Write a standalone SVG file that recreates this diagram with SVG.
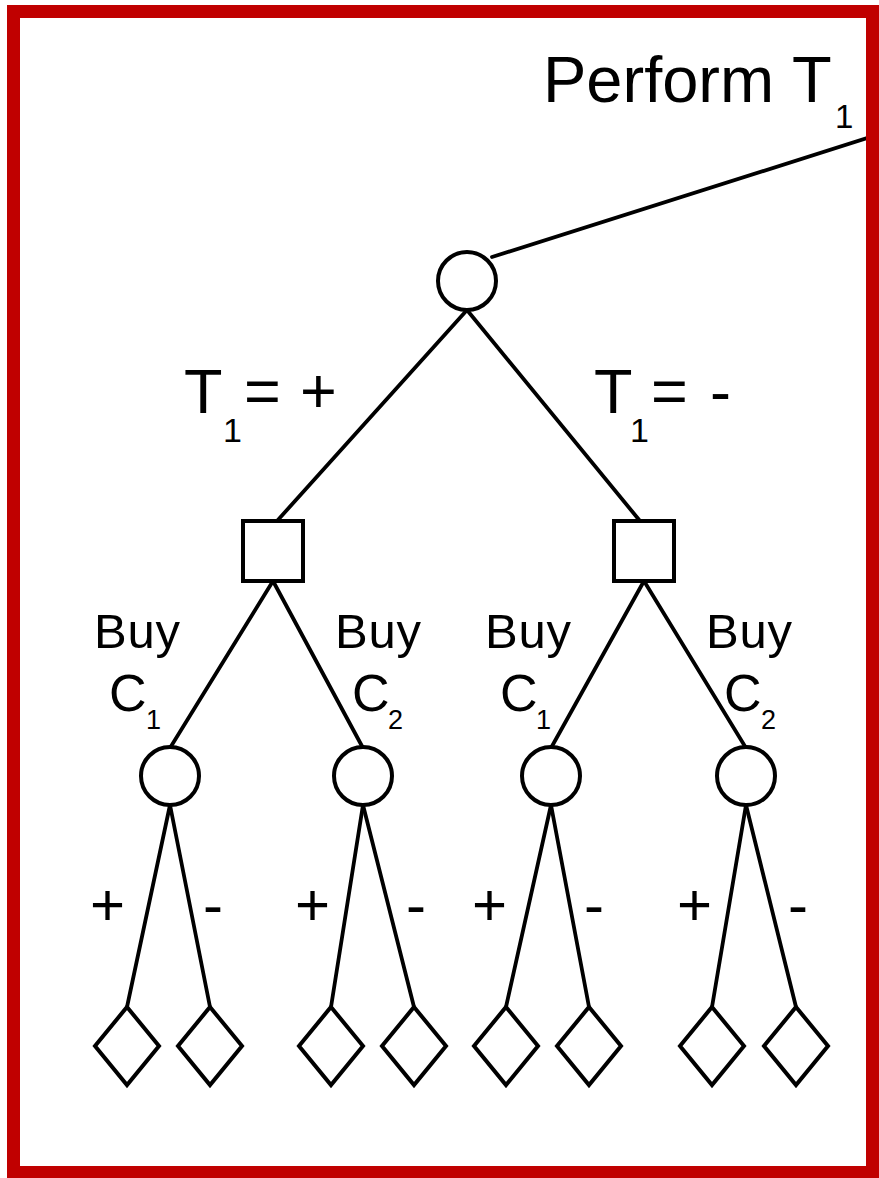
<svg xmlns="http://www.w3.org/2000/svg" width="879" height="1178" viewBox="0 0 879 1178">
<style>
.ln{stroke:#000;stroke-width:3.8;fill:none;stroke-linecap:round}
.nd{stroke:#000;stroke-width:4;fill:#fff}
.t{font-family:"Liberation Sans",Arial,sans-serif;fill:#000}
.big{font-size:63px}
.buy{font-size:49px}
.c{font-size:52px}
.sub{font-size:27px}
.pm{font-size:60px}
</style>
<rect x="0" y="0" width="879" height="1178" fill="#fff"/>
<g id="connectors">
<line class="ln" x1="492" y1="257" x2="880" y2="134"/>
<line class="ln" x1="467" y1="310" x2="277" y2="521"/>
<line class="ln" x1="467" y1="310" x2="640" y2="521"/>
<line class="ln" x1="273" y1="581" x2="170" y2="748"/>
<line class="ln" x1="273" y1="581" x2="363" y2="748"/>
<line class="ln" x1="644" y1="581" x2="551" y2="748"/>
<line class="ln" x1="644" y1="581" x2="746" y2="748"/>
<line class="ln" x1="170" y1="805" x2="127" y2="1007"/>
<line class="ln" x1="170" y1="805" x2="210" y2="1007"/>
<line class="ln" x1="363" y1="805" x2="331" y2="1007"/>
<line class="ln" x1="363" y1="805" x2="414" y2="1007"/>
<line class="ln" x1="551" y1="805" x2="506" y2="1007"/>
<line class="ln" x1="551" y1="805" x2="589" y2="1007"/>
<line class="ln" x1="746" y1="805" x2="712" y2="1007"/>
<line class="ln" x1="746" y1="805" x2="796" y2="1007"/>
</g>
<g id="root"><circle class="nd" cx="467" cy="281" r="29"/></g>
<g id="sq1"><rect class="nd" x="243" y="521" width="60" height="60"/></g>
<g id="sq2"><rect class="nd" x="614" y="521" width="60" height="60"/></g>
<g id="c1"><circle class="nd" cx="170" cy="776" r="29"/></g>
<g id="c2"><circle class="nd" cx="363" cy="776" r="29"/></g>
<g id="c3"><circle class="nd" cx="551" cy="776" r="29"/></g>
<g id="c4"><circle class="nd" cx="746" cy="776" r="29"/></g>
<g id="d1"><polygon class="nd" points="127,1007 159,1046 127,1085 95,1046"/></g>
<g id="d2"><polygon class="nd" points="210,1007 242,1046 210,1085 178,1046"/></g>
<g id="d3"><polygon class="nd" points="331,1007 363,1046 331,1085 299,1046"/></g>
<g id="d4"><polygon class="nd" points="414,1007 446,1046 414,1085 382,1046"/></g>
<g id="d5"><polygon class="nd" points="506,1007 538,1046 506,1085 474,1046"/></g>
<g id="d6"><polygon class="nd" points="589,1007 621,1046 589,1085 557,1046"/></g>
<g id="d7"><polygon class="nd" points="712,1007 744,1046 712,1085 680,1046"/></g>
<g id="d8"><polygon class="nd" points="796,1007 828,1046 796,1085 764,1046"/></g>
<g id="labels">
<text class="t" x="543" y="102" font-size="65">Perform</text>
<text class="t" x="792" y="102" font-size="65">T</text>
<text class="t" x="835" y="128" font-size="33">1</text>
<text class="t big" x="184" y="413">T</text>
<text class="t" x="223" y="442" font-size="34">1</text>
<text class="t big" x="244" y="413">=</text>
<text class="t big" x="300" y="413">+</text>
<text class="t big" x="594" y="413">T</text>
<text class="t" x="630" y="442" font-size="34">1</text>
<text class="t big" x="651" y="413">=</text>
<text class="t big" x="710" y="413">-</text>
<text class="t buy" x="94" y="648" textLength="86">Buy</text>
<text class="t c" x="109" y="711">C</text>
<text class="t sub" x="146" y="729">1</text>
<text class="t buy" x="335" y="648" textLength="86">Buy</text>
<text class="t c" x="352" y="711">C</text>
<text class="t sub" x="388" y="729">2</text>
<text class="t buy" x="485" y="648" textLength="86">Buy</text>
<text class="t c" x="500" y="711">C</text>
<text class="t sub" x="536" y="729">1</text>
<text class="t buy" x="706" y="648" textLength="86">Buy</text>
<text class="t c" x="724" y="711">C</text>
<text class="t sub" x="761" y="729">2</text>
<text class="t pm" x="90" y="925">+</text>
<text class="t pm" x="203" y="925">-</text>
<text class="t pm" x="295" y="925">+</text>
<text class="t pm" x="406" y="925">-</text>
<text class="t pm" x="472" y="925">+</text>
<text class="t pm" x="584" y="925">-</text>
<text class="t pm" x="677" y="925">+</text>
<text class="t pm" x="788" y="925">-</text>
</g>
<rect x="13.5" y="11.5" width="859" height="1161" fill="none" stroke="#c00000" stroke-width="13"/>
</svg>
